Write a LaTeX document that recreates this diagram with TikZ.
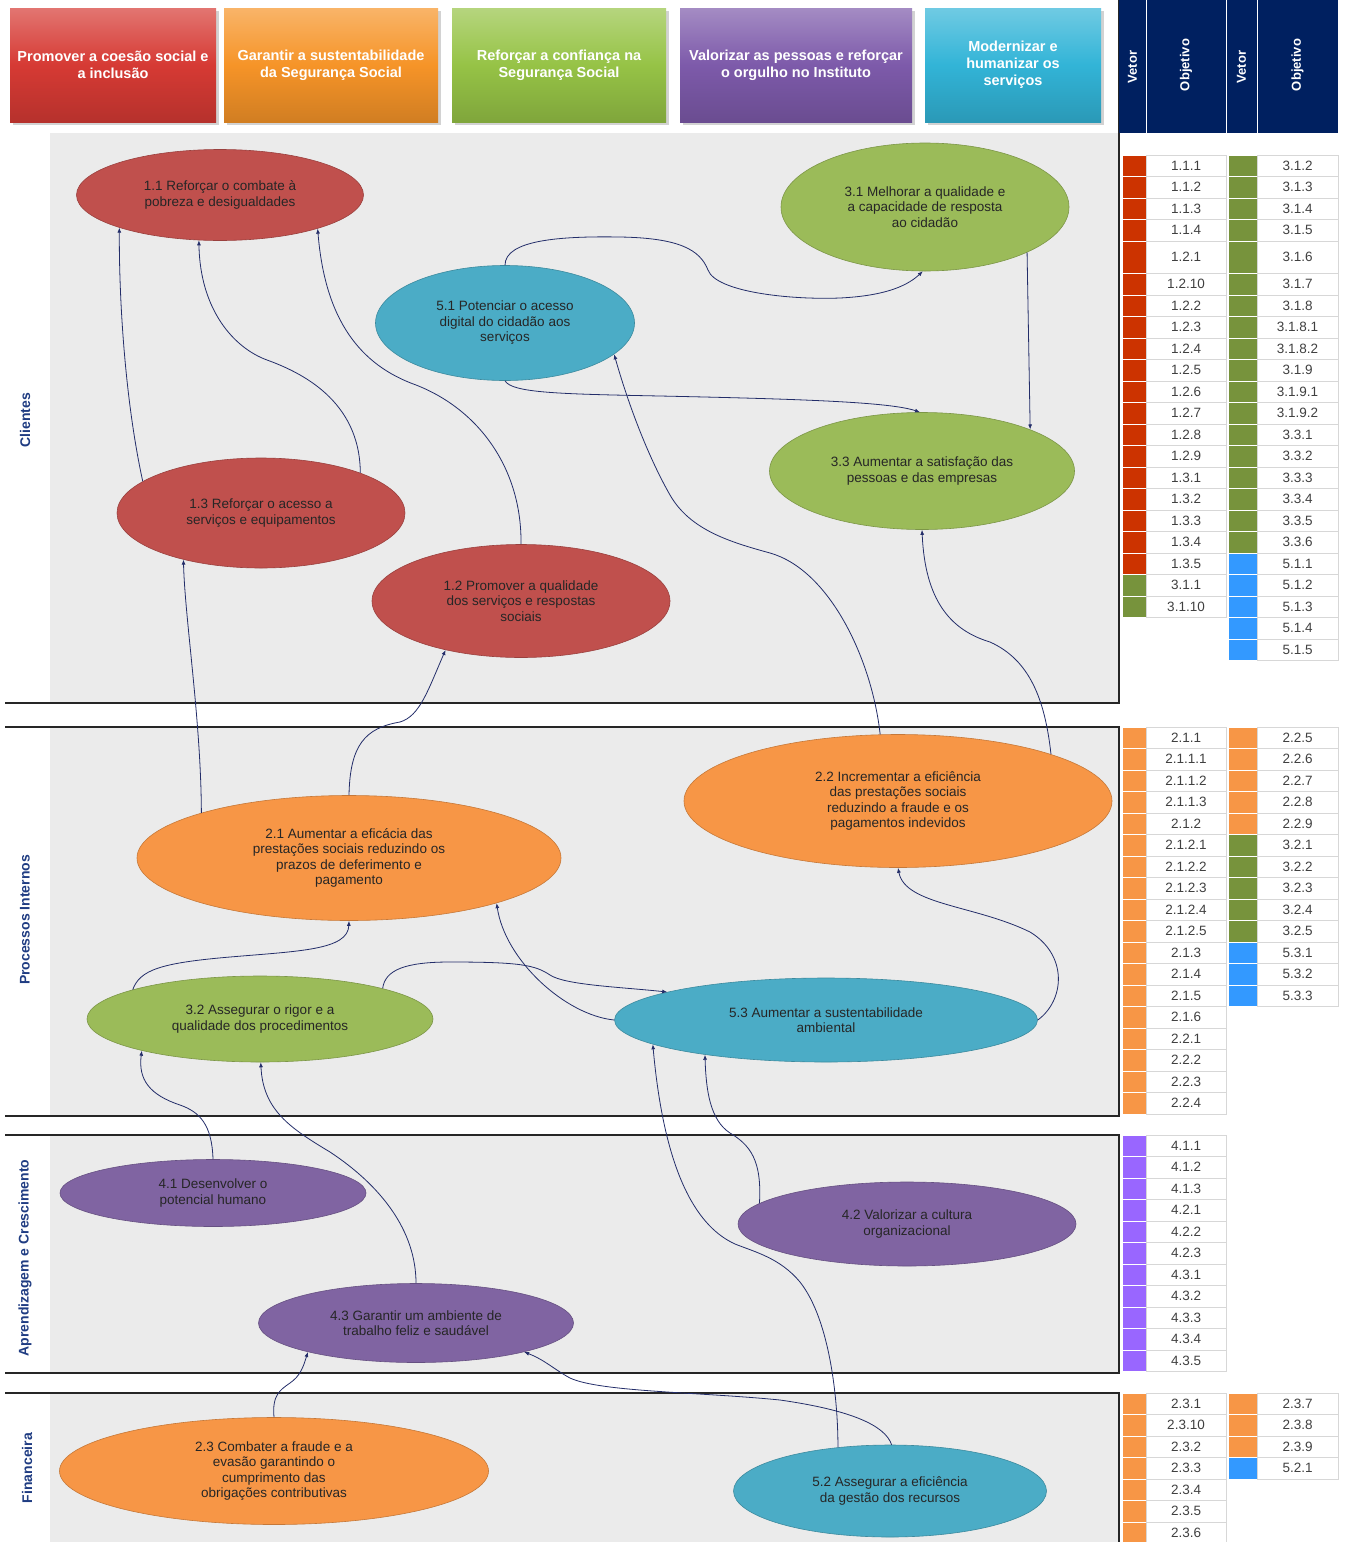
\documentclass[tikz,border=0pt]{standalone}
\usepackage{fontspec}
\setmainfont{Liberation Sans}
\usetikzlibrary{shapes.geometric,arrows.meta,shadows}

\definecolor{bscRed}{RGB}{192,80,77}
\definecolor{bscOrange}{RGB}{247,150,70}
\definecolor{bscGreen}{RGB}{155,187,89}
\definecolor{bscCyan}{RGB}{75,172,198}
\definecolor{bscPurple}{RGB}{128,100,162}
\definecolor{hdRed}{RGB}{214,58,52}
\definecolor{hdOrange}{RGB}{246,148,40}
\definecolor{hdGreen}{RGB}{150,195,70}
\definecolor{hdPurple}{RGB}{125,90,170}
\definecolor{hdCyan}{RGB}{50,180,215}
\definecolor{vetRed}{RGB}{204,51,0}
\definecolor{vetOrange}{RGB}{247,150,70}
\definecolor{vetGreen}{RGB}{119,147,60}
\definecolor{vetBlue}{RGB}{51,153,255}
\definecolor{vetPurple}{RGB}{153,102,255}
\definecolor{bandGray}{RGB}{235,235,235}
\definecolor{navyHead}{RGB}{0,32,96}
\definecolor{perspBlue}{RGB}{31,60,130}
\definecolor{linkBlue}{RGB}{35,45,105}
\definecolor{cellLine}{RGB}{215,215,215}
\definecolor{cellText}{RGB}{64,64,64}

\begin{document}
\begin{tikzpicture}[x=1pt,y=-1pt]
            \tikzset{obj/.style={ellipse, draw=#1!80!black, fill=#1, line width=0.6pt, inner sep=0pt, align=center, text=black!85, font=\fontsize{13.5}{15.5}\selectfont},
                     head/.style={rectangle, top color=#1!70!white, bottom color=#1!85!black, middle color=#1, minimum height=114pt, inner sep=2pt, align=center, text=white, font=\bfseries\fontsize{14.5}{17}\selectfont, drop shadow={shadow xshift=3pt, shadow yshift=-3pt, opacity=0.35}},
                     persp/.style={rotate=90, text=perspBlue, font=\bfseries\fontsize{14}{16}\selectfont},
                     colhead/.style={rotate=90, text=white, font=\bfseries\fontsize{13}{15}\selectfont},
                     vcell/.style={draw=white, line width=0.5pt, minimum width=24pt, minimum height=21.5pt, inner sep=0pt},
                     ocell/.style={draw=cellLine, fill=white, line width=0.5pt, minimum width=80pt, minimum height=21.5pt, inner sep=0pt, text=cellText, font=\fontsize{13.5}{15}\selectfont},
                     sepline/.style={draw=black!85, line width=2pt},
                     link/.style={draw=linkBlue, line width=0.8pt, -{Latex[length=5pt,width=4pt]}}}

            \useasboundingbox (0,0) rectangle (1345,1542);
            \fill[white] (0,0) rectangle (1345,1542);

            \fill[bandGray] (50,133) rectangle (1119,703);
            \fill[bandGray] (50,727) rectangle (1119,1116);
            \fill[bandGray] (50,1135) rectangle (1119,1373);
            \fill[bandGray] (50,1393) rectangle (1119,1542);

            \draw[sepline] (5,703) -- (1119,703) -- (1119,0);
            \draw[sepline] (5,727) -- (1119,727) -- (1119,1116) -- (5,1116);
            \draw[sepline] (5,1135) -- (1119,1135) -- (1119,1373) -- (5,1373);
            \draw[sepline] (5,1393) -- (1119,1393) -- (1119,1542);

            \node[persp] (pCli) at (25,420) {Clientes};
            \node[persp] (pProc) at (25,920) {Processos Internos};
            \node[persp] (pAprend) at (25,1258) {Aprendizagem e Crescimento};
            \node[persp] (pFin) at (27,1468) {Financeira};

            \node[head=hdRed, minimum width=206pt] (h1) at (113,65) {Promover a coesão social e\\a inclusão};
            \node[head=hdOrange, minimum width=214pt] (h2) at (331,65) {Garantir a sustentabilidade\\da Segurança Social};
            \node[head=hdGreen, minimum width=214pt] (h3) at (559,65) {Reforçar a confiança na\\Segurança Social};
            \node[head=hdPurple, minimum width=232pt] (h4) at (796,65) {Valorizar as pessoas e reforçar\\o orgulho no Instituto};
            \node[head=hdCyan, minimum width=176pt] (h5) at (1013,65) {Modernizar e\\humanizar os\\serviços};

            \fill[navyHead] (1119,0) rectangle (1338,133);
            \draw[white, line width=1pt] (1146,0) -- (1146,133) (1226,0) -- (1226,133) (1257,0) -- (1257,133);
            \node[colhead] (hv1) at (1132.5,67) {Vetor};
            \node[colhead] (ho1) at (1186,65) {Objetivo};
            \node[colhead] (hv2) at (1241.5,67) {Vetor};
            \node[colhead] (ho2) at (1297.5,65) {Objetivo};

            % Clientes
            \foreach \tx [count=\i from 0] in {1.1.1,1.1.2,1.1.3,1.1.4}{
                \node[vcell, fill=vetRed] (ca\i) at (1134,165.75+21.5*\i) {};
                \node[ocell] (ta\i) at (1186,165.75+21.5*\i) {\tx};
            }
            \node[vcell, fill=vetRed, minimum height=32.5pt] (ca4) at (1134,257.25) {};
            \node[ocell, minimum height=32.5pt] (ta4) at (1186,257.25) {1.2.1};
            \foreach \cc/\tx [count=\i from 5] in {vetRed/1.2.10,vetRed/1.2.2,vetRed/1.2.3,vetRed/1.2.4,vetRed/1.2.5,vetRed/1.2.6,vetRed/1.2.7,vetRed/1.2.8,vetRed/1.2.9,vetRed/1.3.1,vetRed/1.3.2,vetRed/1.3.3,vetRed/1.3.4,vetRed/1.3.5,vetGreen/3.1.1,vetGreen/3.1.10}{
                \node[vcell, fill=\cc] (ca\i) at (1134,284.25+21.5*\i-107.5) {};
                \node[ocell] (ta\i) at (1186,284.25+21.5*\i-107.5) {\tx};
            }
            \foreach \tx [count=\i from 0] in {3.1.2,3.1.3,3.1.4,3.1.5}{
                \node[vcell, fill=vetGreen, minimum width=29pt] (cb\i) at (1242.5,165.75+21.5*\i) {};
                \node[ocell, minimum width=81pt] (tb\i) at (1297.5,165.75+21.5*\i) {\tx};
            }
            \node[vcell, fill=vetGreen, minimum width=29pt, minimum height=32.5pt] (cb4) at (1242.5,257.25) {};
            \node[ocell, minimum width=81pt, minimum height=32.5pt] (tb4) at (1297.5,257.25) {3.1.6};
            \foreach \cc/\tx [count=\i from 5] in {vetGreen/3.1.7,vetGreen/3.1.8,vetGreen/3.1.8.1,vetGreen/3.1.8.2,vetGreen/3.1.9,vetGreen/3.1.9.1,vetGreen/3.1.9.2,vetGreen/3.3.1,vetGreen/3.3.2,vetGreen/3.3.3,vetGreen/3.3.4,vetGreen/3.3.5,vetGreen/3.3.6,vetBlue/5.1.1,vetBlue/5.1.2,vetBlue/5.1.3,vetBlue/5.1.4,vetBlue/5.1.5}{
                \node[vcell, fill=\cc, minimum width=29pt] (cb\i) at (1242.5,284.25+21.5*\i-107.5) {};
                \node[ocell, minimum width=81pt] (tb\i) at (1297.5,284.25+21.5*\i-107.5) {\tx};
            }

            % Processos Internos
            \foreach \tx [count=\i from 0] in {2.1.1,2.1.1.1,2.1.1.2,2.1.1.3,2.1.2,2.1.2.1,2.1.2.2,2.1.2.3,2.1.2.4,2.1.2.5,2.1.3,2.1.4,2.1.5,2.1.6,2.2.1,2.2.2,2.2.3,2.2.4}{
                \node[vcell, fill=vetOrange] (cc\i) at (1134,737.75+21.5*\i) {};
                \node[ocell] (tc\i) at (1186,737.75+21.5*\i) {\tx};
            }
            \foreach \cc/\tx [count=\i from 0] in {vetOrange/2.2.5,vetOrange/2.2.6,vetOrange/2.2.7,vetOrange/2.2.8,vetOrange/2.2.9,vetGreen/3.2.1,vetGreen/3.2.2,vetGreen/3.2.3,vetGreen/3.2.4,vetGreen/3.2.5,vetBlue/5.3.1,vetBlue/5.3.2,vetBlue/5.3.3}{
                \node[vcell, fill=\cc, minimum width=29pt] (cd\i) at (1242.5,737.75+21.5*\i) {};
                \node[ocell, minimum width=81pt] (td\i) at (1297.5,737.75+21.5*\i) {\tx};
            }

            % Aprendizagem e Crescimento
            \foreach \tx [count=\i from 0] in {4.1.1,4.1.2,4.1.3,4.2.1,4.2.2,4.2.3,4.3.1,4.3.2,4.3.3,4.3.4,4.3.5}{
                \node[vcell, fill=vetPurple] (ce\i) at (1134,1145.75+21.5*\i) {};
                \node[ocell] (te\i) at (1186,1145.75+21.5*\i) {\tx};
            }

            % Financeira
            \foreach \tx [count=\i from 0] in {2.3.1,2.3.10,2.3.2,2.3.3,2.3.4,2.3.5,2.3.6}{
                \node[vcell, fill=vetOrange] (cf\i) at (1134,1403.75+21.5*\i) {};
                \node[ocell] (tf\i) at (1186,1403.75+21.5*\i) {\tx};
            }
            \foreach \cc/\tx [count=\i from 0] in {vetOrange/2.3.7,vetOrange/2.3.8,vetOrange/2.3.9,vetBlue/5.2.1}{
                \node[vcell, fill=\cc, minimum width=29pt] (cg\i) at (1242.5,1403.75+21.5*\i) {};
                \node[ocell, minimum width=81pt] (tg\i) at (1297.5,1403.75+21.5*\i) {\tx};
            }

            \node[obj=bscRed, minimum width=287pt, minimum height=91pt] (e11) at (220,195) {1.1 Reforçar o combate à\\pobreza e desigualdades};
            \node[obj=bscRed, minimum width=288pt, minimum height=110pt] (e13) at (261,513) {1.3 Reforçar o acesso a\\serviços e equipamentos};
            \node[obj=bscRed, minimum width=298pt, minimum height=113pt] (e12) at (521,601) {1.2 Promover a qualidade\\dos serviços e respostas\\sociais};
            \node[obj=bscCyan, minimum width=259pt, minimum height=115pt] (e51) at (505,323) {5.1 Potenciar o acesso\\digital do cidadão aos\\serviços};
            \node[obj=bscGreen, minimum width=288pt, minimum height=128pt] (e31) at (925,207) {3.1 Melhorar a qualidade e\\a capacidade de resposta\\ao cidadão};
            \node[obj=bscGreen, minimum width=305pt, minimum height=117pt] (e33) at (922,471) {3.3 Aumentar a satisfação das\\pessoas e das empresas};
            \node[obj=bscOrange, minimum width=424pt, minimum height=125pt] (e21) at (349,858) {2.1 Aumentar a eficácia das\\prestações sociais reduzindo os\\prazos de deferimento e\\pagamento};
            \node[obj=bscOrange, minimum width=428pt, minimum height=133pt] (e22) at (898,801) {2.2 Incrementar a eficiência\\das prestações sociais\\reduzindo a fraude e os\\pagamentos indevidos};
            \node[obj=bscGreen, minimum width=346pt, minimum height=86pt] (e32) at (260,1019) {3.2 Assegurar o rigor e a\\qualidade dos procedimentos};
            \node[obj=bscCyan, minimum width=423pt, minimum height=84pt] (e53) at (826,1020) {5.3 Aumentar a sustentabilidade\\ambiental};
            \node[obj=bscPurple, minimum width=306pt, minimum height=67pt] (e41) at (213,1193) {4.1 Desenvolver o\\potencial humano};
            \node[obj=bscPurple, minimum width=338pt, minimum height=84pt] (e42) at (907,1224) {4.2 Valorizar a cultura\\organizacional};
            \node[obj=bscPurple, minimum width=315pt, minimum height=79pt] (e43) at (416,1323) {4.3 Garantir um ambiente de\\trabalho feliz e saudável};
            \node[obj=bscOrange, minimum width=429pt, minimum height=107pt] (e23) at (274,1471) {2.3 Combater a fraude e a\\evasão garantindo o\\cumprimento das\\obrigações contributivas};
            \node[obj=bscCyan, minimum width=313pt, minimum height=92pt] (e52) at (890,1491) {5.2 Assegurar a eficiência\\da gestão dos recursos};

            \draw[link] (e13.165) .. controls (125,400) and (119,300) .. (e11.198);
            \draw[link] (e13.22) .. controls (360,400) and (300,372) .. (267,360) .. controls (234,348) and (200,310) .. (e11.245);
            \draw[link] (e12.90) .. controls (522,470) and (480,410) .. (416,385) .. controls (360,365) and (325,320) .. (e11.341);
            \draw[link] (e21.163) .. controls (201,720) and (185,620) .. (e13.211);
            \draw[link] (e21.90) .. controls (350,745) and (365,728) .. (400,722) .. controls (420,716) and (428,690) .. (e12.213);
            \draw[link] (e51.90) .. controls (505,240) and (560,236) .. (620,237) .. controls (680,238) and (700,250) .. (708,270) .. controls (716,292) and (790,300) .. (840,298) .. controls (880,296) and (905,288) .. (e31.268);
            \draw[link] (e51.270) .. controls (512,393) and (560,394) .. (660,396) .. controls (800,399) and (890,402) .. (e33.92);
            \draw[link] (e31.336) -- (e33.21);
            \draw[link] (e22.105) .. controls (872,660) and (830,570) .. (770,553) .. controls (730,542) and (690,530) .. (670,495) .. controls (650,460) and (630,410) .. (e51.344);
            \draw[link] (e22.17) .. controls (1045,700) and (1030,660) .. (990,642) .. controls (950,630) and (925,600) .. (e33.270);
            \draw[link] (e32.167) .. controls (140,970) and (160,963) .. (230,957) .. controls (300,951) and (348,950) .. (e21.270);
            \draw[link] (e32.14) .. controls (385,970) and (405,962) .. (450,962) .. controls (520,962) and (535,965) .. (550,975) .. controls (565,985) and (620,987) .. (e53.170);
            \draw[link] (e53.180) .. controls (565,1015) and (505,960) .. (e21.343);
            \draw[link] (e53.0) .. controls (1065,1000) and (1068,955) .. (1030,932) .. controls (975,905) and (905,905) .. (e22.270);
            \draw[link] (e41.90) .. controls (212,1125) and (200,1112) .. (180,1105) .. controls (150,1095) and (138,1080) .. (e32.195);
            \draw[link] (e43.90) .. controls (416,1230) and (380,1185) .. (330,1152) .. controls (290,1128) and (263,1110) .. (e32.271);
            \draw[link] (e42.172) .. controls (762,1160) and (750,1145) .. (730,1133) .. controls (710,1120) and (706,1090) .. (e53.196);
            \draw[link] (e52.140) .. controls (838,1400) and (830,1320) .. (800,1282) .. controls (780,1258) and (755,1252) .. (735,1244) .. controls (700,1228) and (665,1180) .. (e53.188);
            \draw[link] (e52.88) .. controls (885,1425) and (850,1410) .. (780,1400) .. controls (700,1392) and (600,1392) .. (570,1378) .. controls (555,1370) and (545,1360) .. (e43.345);
            \draw[link] (e23.90) .. controls (272,1395) and (280,1390) .. (290,1383) .. controls (300,1376) and (303,1368) .. (e43.195);
        \end{tikzpicture}
\end{document}
